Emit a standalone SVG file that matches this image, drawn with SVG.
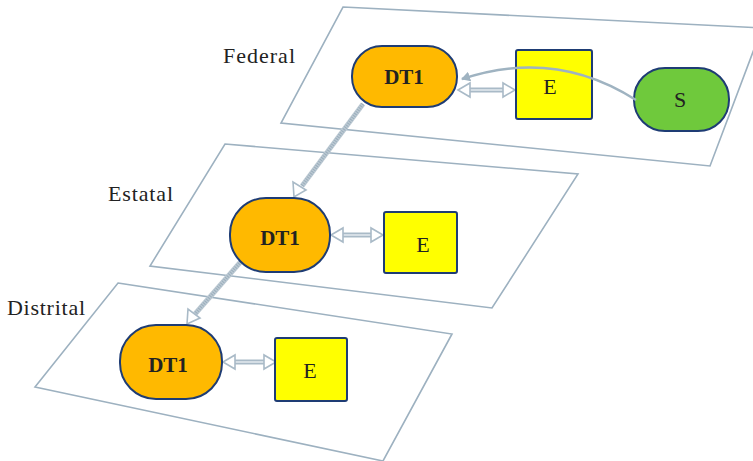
<svg xmlns="http://www.w3.org/2000/svg" width="753" height="461" viewBox="0 0 753 461">
  <defs>
    <style>
      .plane { fill: none; stroke: #9DB1C0; stroke-width: 1.6; }
      .dt { fill: #FFB900; stroke: #1E3C74; stroke-width: 2; }
      .ent { fill: #FFFF00; stroke: #1E3C74; stroke-width: 2; }
      .src { fill: #6FC93C; stroke: #1E3C74; stroke-width: 2; }
      .lbl { font-family: "Liberation Serif", "Times New Roman", serif; font-size: 22px; fill: #222; }
      .nl { font-family: "Liberation Serif", "Times New Roman", serif; font-size: 22px; fill: #222; text-anchor: middle; }
      .b { font-weight: bold; font-size: 21px; }
      .shaft { stroke: #A9BAC7; stroke-width: 5; fill: none; }
      .shaftIn { stroke: #E4EAEF; stroke-width: 1.5; fill: none; }
      .head { fill: #FFFFFF; stroke: #A9BAC7; stroke-width: 1.6; stroke-linejoin: miter; }
      .hatch { stroke: #BCC9D3; stroke-width: 5; fill: none; }
      .hatchIn { stroke: #9AAEBC; stroke-width: 3.5; stroke-dasharray: 1 1.4; fill: none; }
      .flow { stroke: #9FB3C1; stroke-width: 2.5; fill: none; }
    </style>
    <marker id="solidHead" markerWidth="10" markerHeight="10" refX="8" refY="5" orient="auto" markerUnits="userSpaceOnUse">
      <path d="M0,0 L9,5 L0,10 Z" fill="#9FB3C1"/>
    </marker>
  </defs>

  <!-- planes -->
  <g id="planes">
    <path class="plane" d="M343,7 L762,28 L710,166 L281,123 Z"/>
    <path class="plane" d="M225,144 L578,174 L492,308 L150,266 Z"/>
    <path class="plane" d="M118,283 L452,334 L383,461 L35,387 Z"/>
  </g>

  <!-- level labels -->
  <g id="labels">
    <text class="lbl" x="223" y="63" textLength="72">Federal</text>
    <text class="lbl" x="108" y="201" textLength="65">Estatal</text>
    <text class="lbl" x="7" y="315" textLength="78">Distrital</text>
  </g>

  <!-- connectors -->
  <g id="connectors">
    <!-- Federal DT1 to Estatal DT1 -->
    <line class="hatch" x1="363" y1="104" x2="302" y2="186"/>
    <line class="hatchIn" x1="363" y1="104" x2="302" y2="186"/>
    <path class="head" d="M294,197 L293,182 L306,190 Z"/>
    <!-- Estatal DT1 to Distrital DT1 -->
    <line class="hatch" x1="244" y1="258" x2="195" y2="314"/>
    <line class="hatchIn" x1="244" y1="258" x2="195" y2="314"/>
    <path class="head" d="M187,324 L188,309 L200,318 Z"/>

    <!-- Federal DT1 <-> E -->
    <line class="shaft" x1="470" y1="90" x2="503" y2="90"/>
    <line class="shaftIn" x1="470" y1="90" x2="503" y2="90"/>
    <path class="head" d="M458,90 L470,83 L470,97 Z"/>
    <path class="head" d="M515,90 L503,83 L503,97 Z"/>

    <!-- Estatal DT1 <-> E -->
    <line class="shaft" x1="343" y1="235" x2="371" y2="235"/>
    <line class="shaftIn" x1="343" y1="235" x2="371" y2="235"/>
    <path class="head" d="M331,235 L343,228 L343,242 Z"/>
    <path class="head" d="M383,235 L371,228 L371,242 Z"/>

    <!-- Distrital DT1 <-> E -->
    <line class="shaft" x1="235" y1="362" x2="264" y2="362"/>
    <line class="shaftIn" x1="235" y1="362" x2="264" y2="362"/>
    <path class="head" d="M223,362 L235,355 L235,369 Z"/>
    <path class="head" d="M276,362 L264,355 L264,369 Z"/>
  </g>

  <!-- Federal level nodes -->
  <g id="federal-dt1">
    <rect class="dt" x="352" y="46" width="105" height="61" rx="30" ry="30"/>
    <text class="nl b" x="404" y="84">DT1</text>
  </g>
  <g id="federal-e">
    <rect class="ent" x="516" y="50" width="76" height="69" rx="2"/>
    <text class="nl" x="550" y="94">E</text>
  </g>
  <g id="federal-s">
    <rect class="src" x="634" y="68" width="95" height="63" rx="31" ry="31"/>
    <text class="nl" x="680" y="107">S</text>
  </g>

  <!-- S feeds DT1, drawn over E -->
  <g id="flow">
    <path class="flow" d="M636,100 Q555,48 462,79" marker-end="url(#solidHead)"/>
  </g>

  <!-- Estatal level nodes -->
  <g id="estatal-dt1">
    <rect class="dt" x="230" y="198" width="100" height="74" rx="36" ry="36"/>
    <text class="nl b" x="280" y="245">DT1</text>
  </g>
  <g id="estatal-e">
    <rect class="ent" x="384" y="212" width="73" height="61" rx="2"/>
    <text class="nl" x="423" y="252">E</text>
  </g>

  <!-- Distrital level nodes -->
  <g id="distrital-dt1">
    <rect class="dt" x="120" y="325" width="102" height="74" rx="36" ry="36"/>
    <text class="nl b" x="168" y="372">DT1</text>
  </g>
  <g id="distrital-e">
    <rect class="ent" x="275" y="338" width="72" height="63" rx="2"/>
    <text class="nl" x="310" y="378">E</text>
  </g>
</svg>
